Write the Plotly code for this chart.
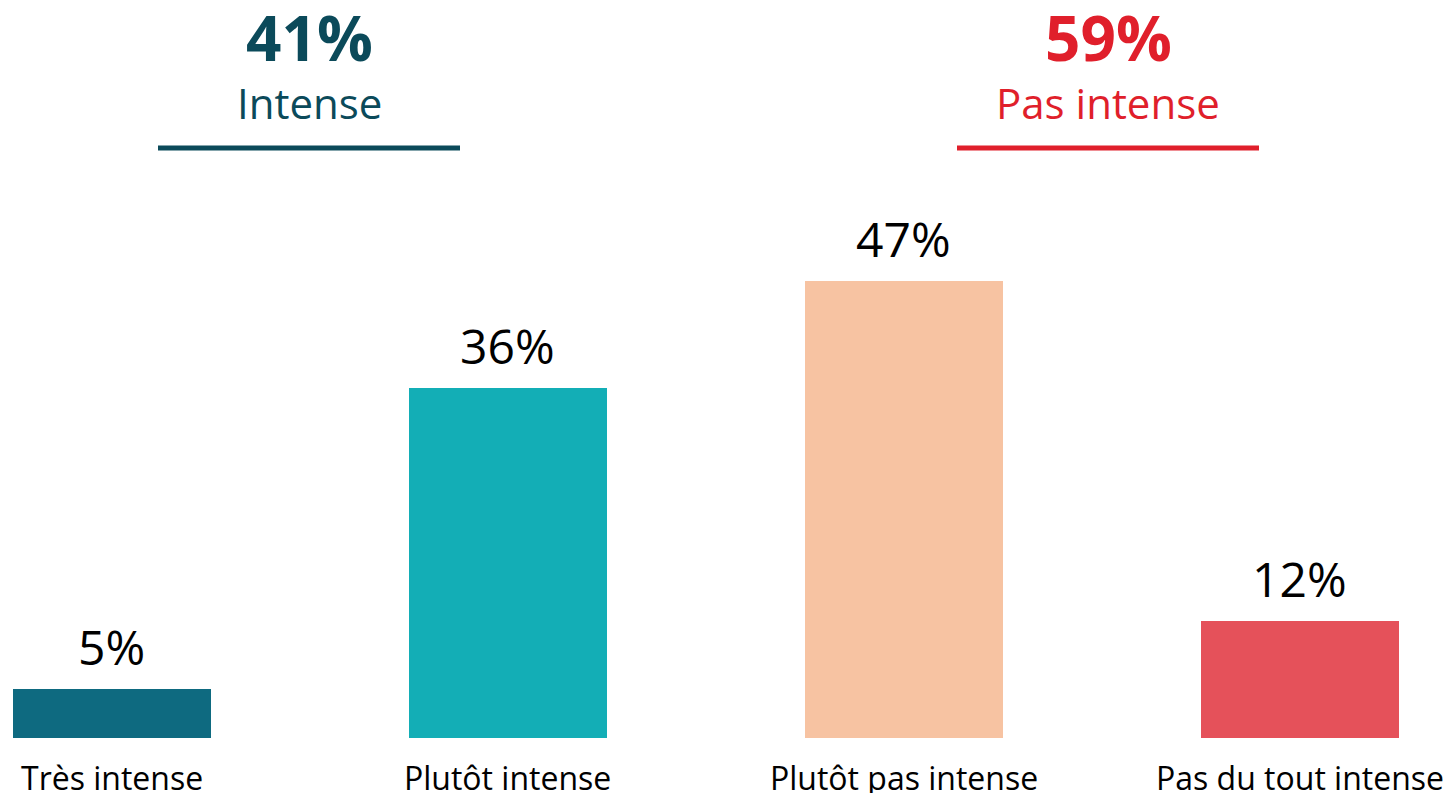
import plotly.graph_objects as go

categories = ["Très intense", "Plutôt intense", "Plutôt pas intense", "Pas du tout intense"]
values = [5, 36, 47, 12]
value_labels = ["5%", "36%", "47%", "12%"]
bar_colors = ["#0E6A80", "#13AEB6", "#F7C3A2", "#E5515A"]

group_totals = ["41%", "59%"]
group_names = ["Intense", "Pas intense"]
group_colors = ["#0B4A5A", "#E01F2B"]

FONT = "Open Sans"
OFF = 8  # page body margin
W, H = 1453 - OFF, 793 - OFF
BASE_PX = 738 - OFF  # baseline pixel within figure

x_pos = list(range(len(categories)))

fig = go.Figure()
fig.add_trace(go.Bar(
    x=x_pos, y=values, width=0.5,
    marker=dict(color=bar_colors, line=dict(width=0)),
    hoverinfo="skip", showlegend=False,
))

annotations = []
for i, (v, lab, cat) in enumerate(zip(values, value_labels, categories)):
    annotations.append(dict(x=i, y=v, xref="x", yref="y", text=lab, showarrow=False,
                            xanchor="center", yanchor="middle", yshift=43,
                            font=dict(family=FONT, size=48, color="#000000")))
    annotations.append(dict(x=i, y=0, xref="x", yref="y", text=cat, showarrow=False,
                            xanchor="center", yanchor="middle", yshift=-39,
                            font=dict(family=FONT, size=32, color="#000000")))

group_x_px = [309 - OFF, 1108 - OFF]
group_line_px = [(158 - OFF, 460 - OFF), (957 - OFF, 1259 - OFF)]
total_y_px = 29
name_y_px = 94.5
line_y_px = 140
shapes = []
for gx, tot, name, col, (l0, l1) in zip(group_x_px, group_totals, group_names, group_colors, group_line_px):
    annotations.append(dict(x=gx / W, y=(BASE_PX - total_y_px) / BASE_PX, xref="paper", yref="paper",
                            text="<b>" + tot + "</b>", showarrow=False,
                            xanchor="center", yanchor="middle",
                            font=dict(family=FONT, size=62, color=col)))
    annotations.append(dict(x=gx / W, y=(BASE_PX - name_y_px) / BASE_PX, xref="paper", yref="paper",
                            text=name, showarrow=False,
                            xanchor="center", yanchor="middle",
                            font=dict(family=FONT, size=42, color=col)))
    shapes.append(dict(type="line", xref="paper", yref="paper",
                       x0=l0 / W, x1=l1 / W,
                       y0=(BASE_PX - line_y_px) / BASE_PX, y1=(BASE_PX - line_y_px) / BASE_PX,
                       line=dict(color=col, width=5)))

px_per_unit = 9.72
slot = 396.0
c0 = 111.5 - OFF
fig.update_layout(
    width=W, height=H,
    margin=dict(l=0, r=0, t=0, b=H - BASE_PX, pad=0),
    paper_bgcolor="white", plot_bgcolor="white",
    xaxis=dict(range=[-c0 / slot, (W - c0) / slot], visible=False, fixedrange=True),
    yaxis=dict(range=[0, BASE_PX / px_per_unit], visible=False, fixedrange=True),
    annotations=annotations, shapes=shapes,
    bargap=0,
)

fig.write_html("out.html", config=dict(displayModeBar=False))
